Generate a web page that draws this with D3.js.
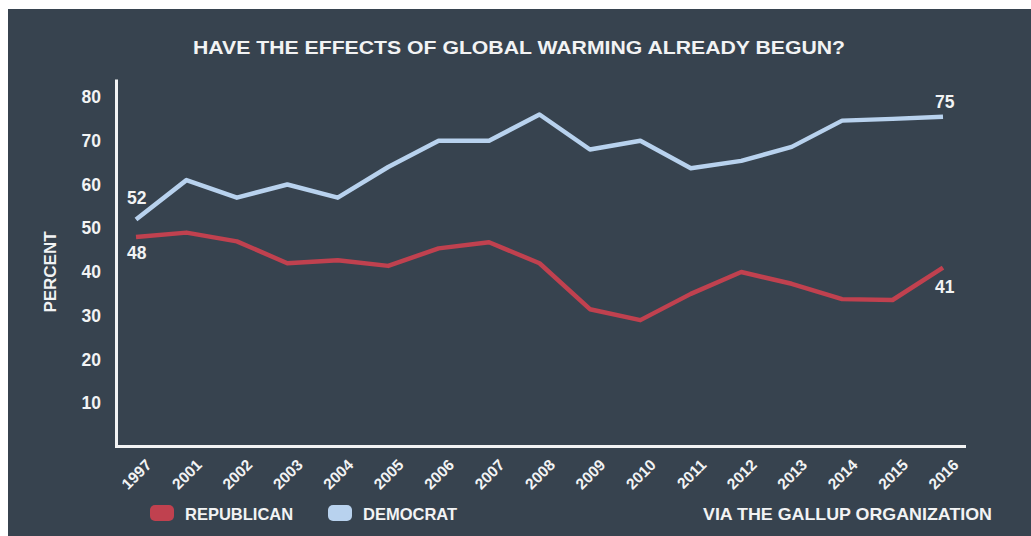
<!DOCTYPE html>
<html lang="en">
<meta charset="utf-8">
<title>Have the effects of global warming already begun?</title>
<style>
  body { margin: 0; background: #fff; }
  text { font-family: "Liberation Sans", Arial, sans-serif; font-weight: bold; }
</style>
<body>
<script src="https://d3js.org/d3.v7.min.js"></script>
<script>
  // data
  var years = ["1997", "2001", "2002", "2003", "2004", "2005", "2006", "2007", "2008",
    "2009", "2010", "2011", "2012", "2013", "2014", "2015", "2016"];
  var democrat = [52, 61, 57, 60, 57, 64, 70, 70, 76, 68, 70, 63.7, 65.4, 68.6, 74.6, 75, 75.5];
  var republican = [48, 49, 47, 42, 42.7, 41.4, 45.4, 46.8, 42, 31.5, 29, 35, 40, 37.3, 33.8, 33.6, 41];
  var yTicks = [10, 20, 30, 40, 50, 60, 70, 80];

  var W = 1031, H = 536;
  var bg = "#37434f", ink = "#f2f3f4";
  var demColor = "#b8d2ee", repColor = "#c0414f";

  var svg = d3.select("body").append("svg")
    .attr("width", W)
    .attr("height", H);

  // dark panel
  svg.append("rect")
    .attr("x", 8).attr("y", 9)
    .attr("width", W - 8).attr("height", H - 9)
    .attr("fill", bg);

  // scales
  var x = d3.scalePoint().domain(years).range([136, 943]);
  var y = d3.scaleLinear().domain([0, 80]).range([447, 97]);

  // title
  svg.append("text")
    .attr("x", 519).attr("y", 54)
    .attr("text-anchor", "middle")
    .attr("fill", ink)
    .attr("font-size", 19)
    .attr("textLength", 652)
    .attr("lengthAdjust", "spacingAndGlyphs")
    .text("HAVE THE EFFECTS OF GLOBAL WARMING ALREADY BEGUN?");

  // frame: left and bottom lines
  svg.append("path")
    .attr("d", "M116.5," + y(84) + "V" + (y(0) - 0.5) + "H966")
    .attr("fill", "none")
    .attr("stroke", ink)
    .attr("stroke-width", 3);

  // y axis labels
  var yAxis = svg.append("g")
    .attr("transform", "translate(101,0)")
    .call(d3.axisLeft(y).tickValues(yTicks).tickSize(0).tickPadding(0));
  yAxis.select(".domain").remove();
  yAxis.selectAll("text")
    .attr("fill", ink)
    .attr("font-size", 17.5)
    .attr("font-family", "Liberation Sans, Arial, sans-serif")
    .attr("font-weight", "bold");

  svg.append("text")
    .attr("transform", "translate(56,272) rotate(-90)")
    .attr("text-anchor", "middle")
    .attr("fill", ink)
    .attr("font-size", 17)
    .text("PERCENT");

  // x axis labels, rotated
  var xAxis = svg.append("g")
    .attr("transform", "translate(0,466)")
    .call(d3.axisBottom(x).tickSize(0).tickPadding(0));
  xAxis.select(".domain").remove();
  xAxis.selectAll("text")
    .attr("fill", ink)
    .attr("font-size", 15.5)
    .attr("font-family", "Liberation Sans, Arial, sans-serif")
    .attr("font-weight", "bold")
    .attr("text-anchor", "end")
    .attr("dy", 0)
    .attr("transform", "translate(16,0) rotate(-45)");

  // lines
  var line = d3.line()
    .x(function(d, i) { return x(years[i]); })
    .y(function(d) { return y(d); });

  svg.append("path")
    .datum(republican)
    .attr("d", line)
    .attr("fill", "none")
    .attr("stroke", repColor)
    .attr("stroke-width", 4.5)
    .attr("stroke-linejoin", "round");

  svg.append("path")
    .datum(democrat)
    .attr("d", line)
    .attr("fill", "none")
    .attr("stroke", demColor)
    .attr("stroke-width", 4.5)
    .attr("stroke-linejoin", "round");

  // end labels
  var last = years.length - 1;
  function endLabel(series, i, dx, dy, txt) {
    svg.append("text")
      .attr("x", x(years[i]) + dx)
      .attr("y", y(series[i]) + dy)
      .attr("fill", ink)
      .attr("font-size", 17.5)
      .text(txt);
  }
  endLabel(democrat, 0, -9, -16, "52");
  endLabel(republican, 0, -9, 22, "48");
  endLabel(democrat, last, -8, -9, "75");
  endLabel(republican, last, -8, 25, "41");

  // legend
  var legend = [
    { name: "REPUBLICAN", color: repColor, x: 150 },
    { name: "DEMOCRAT", color: demColor, x: 328 }
  ];
  legend.forEach(function(d) {
    svg.append("rect")
      .attr("x", d.x).attr("y", 505)
      .attr("width", 24).attr("height", 16)
      .attr("rx", 5)
      .attr("fill", d.color);
    svg.append("text")
      .attr("x", d.x + 35).attr("y", 519.5)
      .attr("fill", ink)
      .attr("font-size", 16.5)
      .text(d.name);
  });

  svg.append("text")
    .attr("x", 992).attr("y", 519.5)
    .attr("text-anchor", "end")
    .attr("fill", ink)
    .attr("font-size", 17)
    .attr("textLength", 289)
    .attr("lengthAdjust", "spacingAndGlyphs")
    .text("VIA THE GALLUP ORGANIZATION");
</script>
</body>
